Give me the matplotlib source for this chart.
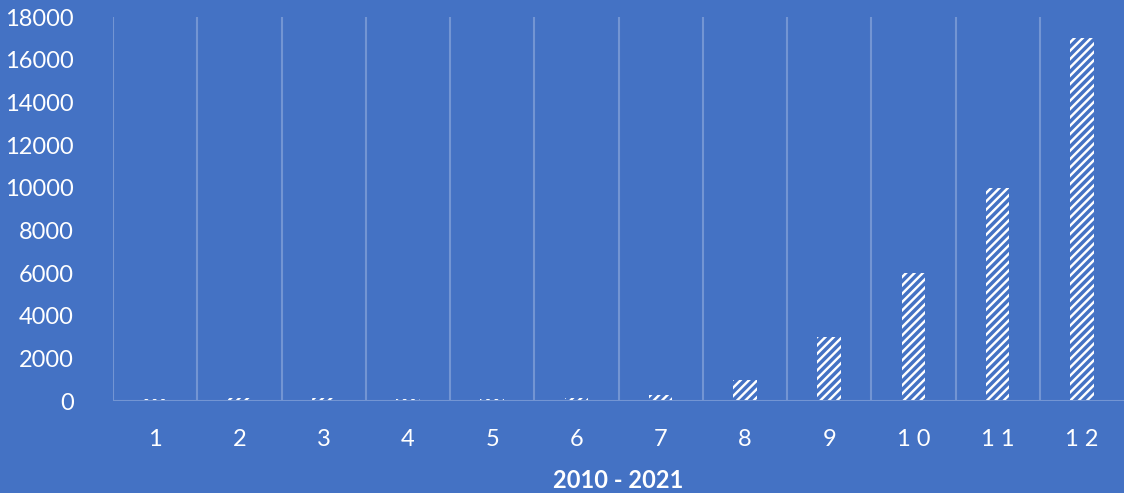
import numpy as np
import matplotlib.pyplot as plt

plt.rcParams['font.family'] = ['Lato', 'DejaVu Sans']
plt.rcParams['hatch.linewidth'] = 2.5

categorie = ["1", "2", "3", "4", "5", "6", "7", "8", "9", "1 0", "1 1", "1 2"]
valori = [100, 120, 120, 100, 100, 130, 300, 1000, 3000, 6000, 10000, 17000]
yticks = [0, 2000, 4000, 6000, 8000, 10000, 12000, 14000, 16000, 18000]

sfondo = "#4472C4"
griglia = "#7395D3"

fig = plt.figure(figsize=(11.24, 4.93), dpi=100, facecolor=sfondo)
ax = fig.add_axes([113/1124, 92/493, 1 - 113/1124, 384/493])
ax.set_facecolor(sfondo)

x = np.arange(len(categorie))
ax.bar(x, valori, width=0.28, color="white", edgecolor=sfondo,
       hatch="////", linewidth=0, zorder=3)

ax.set_xlim(-0.5, len(categorie) - 0.5)
ax.set_ylim(0, 18000)
ax.set_yticks(yticks)
ax.set_yticklabels([str(v) for v in yticks])
ax.set_xticks(x)
ax.set_xticklabels(categorie)

# griglia verticale ai confini delle categorie
for b in np.arange(-0.5, len(categorie) - 0.5, 1.0):
    ax.axvline(b, color=griglia, lw=1.5, zorder=1)

for s in ax.spines.values():
    s.set_visible(False)
ax.axhline(0, color=griglia, lw=1.5, zorder=4)

ax.tick_params(axis="both", length=0, colors="white", labelsize=17)
ax.tick_params(axis="y", pad=28)
ax.tick_params(axis="x", pad=20)
ax.set_xlabel("2010 - 2021", color="white", fontsize=17, fontweight="bold", labelpad=14)

fig.savefig("out.png", dpi=100, facecolor=sfondo)
